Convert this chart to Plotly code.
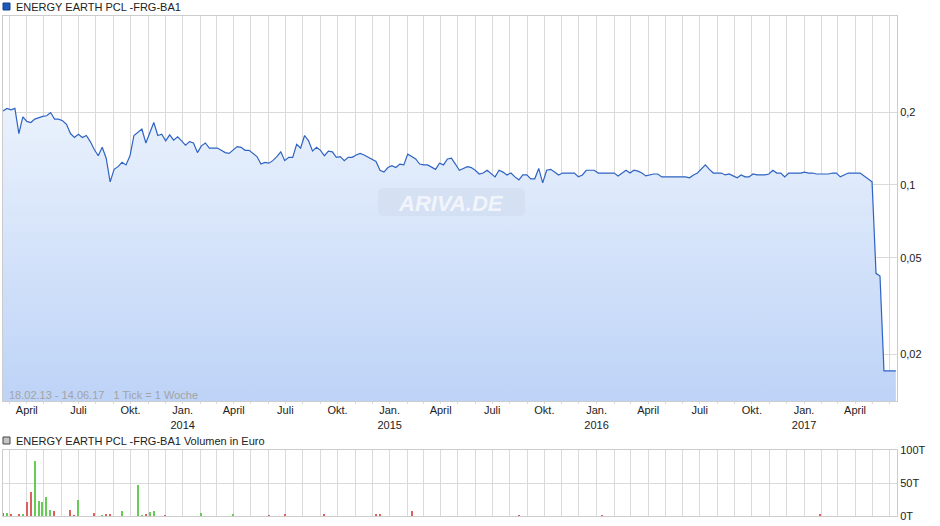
import pandas as pd
import plotly.graph_objects as go

W, H = 940, 526
START = "2013-02-18"
END = "2017-06-14"

# weekly closing prices (EUR), one per week starting 18.02.2013
price = [
    0.202, 0.207, 0.204, 0.207, 0.163, 0.191, 0.183, 0.181, 0.187, 0.190,
    0.192, 0.193, 0.199, 0.187, 0.187, 0.184, 0.178, 0.163, 0.157, 0.162,
    0.157, 0.160, 0.151, 0.140, 0.132, 0.143, 0.129, 0.103, 0.116, 0.119,
    0.124, 0.121, 0.132, 0.160, 0.165, 0.170, 0.149, 0.164, 0.181, 0.160,
    0.162, 0.152, 0.161, 0.153, 0.158, 0.152, 0.146, 0.151, 0.149, 0.136,
    0.145, 0.149, 0.142, 0.142, 0.142, 0.139, 0.136, 0.135, 0.139, 0.144,
    0.143, 0.139, 0.139, 0.135, 0.131, 0.122, 0.124, 0.123, 0.126, 0.131,
    0.137, 0.126, 0.130, 0.130, 0.147, 0.142, 0.160, 0.152, 0.138, 0.143,
    0.139, 0.132, 0.138, 0.137, 0.130, 0.131, 0.126, 0.130, 0.130, 0.133,
    0.135, 0.133, 0.130, 0.128, 0.125, 0.115, 0.113, 0.118, 0.120, 0.118,
    0.122, 0.121, 0.134, 0.131, 0.128, 0.122, 0.121, 0.121, 0.118, 0.116,
    0.123, 0.121, 0.128, 0.129, 0.122, 0.115, 0.117, 0.119, 0.118, 0.115,
    0.111, 0.112, 0.115, 0.111, 0.108, 0.115, 0.113, 0.110, 0.112, 0.108,
    0.105, 0.110, 0.110, 0.106, 0.106, 0.117, 0.102, 0.115, 0.116, 0.113,
    0.110, 0.112, 0.112, 0.112, 0.112, 0.108, 0.110, 0.115, 0.115, 0.115,
    0.112, 0.112, 0.112, 0.112, 0.112, 0.109, 0.112, 0.115, 0.112, 0.115,
    0.114, 0.112, 0.109, 0.110, 0.111, 0.111, 0.108, 0.108, 0.108, 0.108,
    0.108, 0.108, 0.108, 0.107, 0.110, 0.112, 0.117, 0.121, 0.116, 0.112,
    0.112, 0.112, 0.110, 0.111, 0.109, 0.107, 0.110, 0.108, 0.108, 0.111,
    0.110, 0.110, 0.110, 0.111, 0.115, 0.112, 0.112, 0.108, 0.112, 0.112,
    0.112, 0.112, 0.113, 0.112, 0.112, 0.111, 0.111, 0.111, 0.111, 0.112,
    0.112, 0.108, 0.110, 0.112, 0.112, 0.112, 0.112, 0.109, 0.106, 0.103,
    0.0432, 0.0421, 0.0171, 0.0171, 0.0171, 0.0171,
]

# weekly volume in Euro (only weeks with turnover)
vol_weeks = [0, 1, 2, 4, 5, 6, 7, 8, 9, 10, 11, 12, 13, 17, 18, 19, 23, 25, 26, 27,
             30, 34, 35, 36, 37, 38, 41, 50, 58, 67, 71, 81, 94, 95, 103, 130, 151, 206]
vol_values = [5000, 5000, 2000, 3000, 2000, 21000, 36000, 84000, 23000, 21000,
              29000, 9000, 7500, 9000, 1500, 24000, 5000, 1000, 3000, 3000,
              7500, 47000, 1000, 2500, 6000, 7500, 1000, 5000, 2000, 1000,
              2000, 2000, 2000, 2000, 8000, 500, 500, 2000]
vol_up = [0, 1, 0, 0, 1, 0, 0, 1, 1, 1,
          1, 1, 0, 0, 0, 1, 0, 1, 0, 0,
          1, 1, 1, 0, 1, 1, 0, 1, 1, 0,
          0, 0, 0, 0, 0, 0, 0, 0]

y_ticks = [0.02, 0.05, 0.1, 0.2]
y_ticktext = ["0,02", "0,05", "0,1", "0,2"]
vol_ticks = [0, 50000, 100000]
vol_ticktext = ["0T", "50T", "100T"]
quarter_names = {1: "Jan.", 4: "April", 7: "Juli", 10: "Okt."}

title_text = "ENERGY EARTH PCL -FRG-BA1"
vol_title_text = "ENERGY EARTH PCL -FRG-BA1 Volumen in Euro"
info_text = "18.02.13 - 14.06.17\u00a0\u00a0\u00a01 Tick = 1 Woche"
watermark_text = "ARIVA.DE"

dates = pd.date_range(START, periods=len(price), freq="7D")
months = pd.date_range("2013-03-01", END, freq="MS")
month_text = []
for m in months:
    if m.month in quarter_names:
        t = quarter_names[m.month]
        if m.month == 1:
            t += "<br>" + str(m.year)
        month_text.append(t)
    else:
        month_text.append("")

FONT = "Liberation Sans, Arial, sans-serif"
GRID = "#dadada"
Y_RANGE = [-1.8914, -0.3028]


def px(x):
    return x / W


def py(y):
    return 1 - y / H


fig = go.Figure()
fig.add_trace(go.Scatter(
    x=dates, y=price, mode="lines",
    line=dict(color="#2e63c4", width=1.2),
    fill="tozeroy",
    fillgradient=dict(type="vertical", start=10 ** Y_RANGE[0], stop=0.2,
                      colorscale=[[0, "#bdd3f7"], [1, "#e9f1fc"]]),
    xaxis="x", yaxis="y", hoverinfo="x+y",
))
fig.add_trace(go.Bar(
    x=dates[vol_weeks], y=vol_values,
    marker=dict(color=["#66cc55" if u else "#dd6060" for u in vol_up], line=dict(width=0)),
    width=2.5 * 86400000,
    xaxis="x2", yaxis="y2",
))

xdom = [px(3), px(897)]
common_x = dict(
    type="date", range=[START, END], domain=xdom,
    tickvals=months, ticktext=month_text,
    showgrid=True, gridcolor=GRID, gridwidth=1,
    showline=True, linecolor="#cccccc", linewidth=1, mirror=True,
    zeroline=False, automargin=False,
)
fig.update_layout(
    width=W, height=H,
    margin=dict(l=0, r=0, t=0, b=0, pad=0, autoexpand=False),
    paper_bgcolor="white", plot_bgcolor="white",
    showlegend=False,
    bargap=0,
    font=dict(family=FONT, size=11, color="#222222"),
    xaxis=dict(**common_x, anchor="y", ticks="outside", ticklen=2,
               ticklabelstandoff=-3,
               tickcolor=GRID, tickfont=dict(size=11, color="#222222")),
    yaxis=dict(
        type="log", domain=[py(401), py(16)],
        range=Y_RANGE, side="right", anchor="x",
        tickvals=y_ticks, ticktext=y_ticktext,
        showgrid=True, gridcolor=GRID, gridwidth=1,
        showline=True, linecolor="#cccccc", mirror=True,
        ticks="", tickfont=dict(size=11, color="#222222"),
        zeroline=False, automargin=False,
    ),
    xaxis2=dict(**common_x, anchor="y2", showticklabels=False, ticks=""),
    yaxis2=dict(
        domain=[py(516), py(450)], range=[0, 100000], side="right", anchor="x2",
        tickvals=vol_ticks, ticktext=vol_ticktext,
        showgrid=True, gridcolor=GRID, gridwidth=1,
        showline=True, linecolor="#cccccc", mirror=True,
        ticks="", tickfont=dict(size=11, color="#222222"),
        zeroline=False, automargin=False,
    ),
)

# rounded watermark box
x0, x1, y0, y1, r = px(378), px(525), py(216), py(188), 6
rx, ry = r / W, r / H
wm_path = (f"M {x0+rx},{y0} L {x1-rx},{y0} Q {x1},{y0} {x1},{y0+ry} "
           f"L {x1},{y1-ry} Q {x1},{y1} {x1-rx},{y1} L {x0+rx},{y1} "
           f"Q {x0},{y1} {x0},{y1-ry} L {x0},{y0+ry} Q {x0},{y0} {x0+rx},{y0} Z")

shapes = [
    dict(type="rect", xref="paper", yref="paper",
         x0=px(3), x1=px(10), y0=py(10), y1=py(3),
         fillcolor="#1d58ba", line=dict(color="#123e86", width=1)),
    dict(type="rect", xref="paper", yref="paper",
         x0=px(3), x1=px(10), y0=py(444), y1=py(437),
         fillcolor="#c4c4c4", line=dict(color="#444444", width=1)),
    dict(type="path", xref="paper", yref="paper", path=wm_path,
         fillcolor="rgba(190,200,220,0.22)", line=dict(width=0), layer="above"),
]
annotations = [
    dict(text=title_text, xref="paper", yref="paper", x=px(14), y=py(6.5),
         xanchor="left", yanchor="middle", showarrow=False,
         font=dict(size=11, color="#222222", family=FONT)),
    dict(text=vol_title_text, xref="paper", yref="paper", x=px(14), y=py(440.5),
         xanchor="left", yanchor="middle", showarrow=False,
         font=dict(size=11, color="#222222", family=FONT)),
    dict(text=info_text, xref="paper", yref="paper", x=px(7), y=py(395),
         xanchor="left", yanchor="middle", showarrow=False,
         font=dict(size=11, color="#a3a3a3", family=FONT)),
    dict(text="<b><i>" + watermark_text + "</i></b>", xref="paper", yref="paper",
         x=px(451), y=py(203), xanchor="center", yanchor="middle", showarrow=False,
         font=dict(size=22, color="rgba(255,255,255,0.7)", family=FONT)),
]
fig.update_layout(shapes=shapes, annotations=annotations)

fig.write_html("out.html", config={"displayModeBar": False},
               post_script="document.body.style.margin='0';")
